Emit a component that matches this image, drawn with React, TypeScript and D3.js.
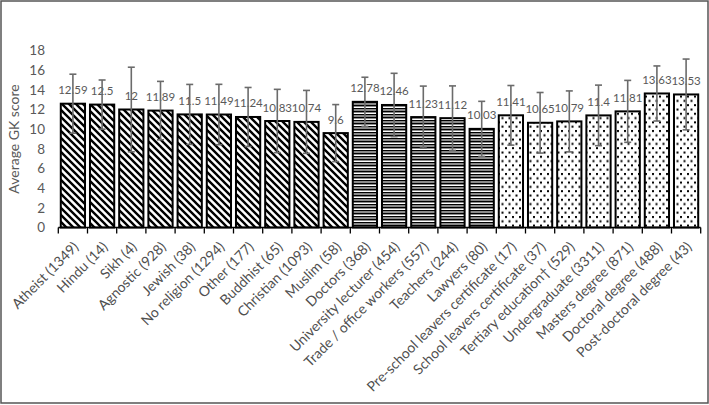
import React from "react";
import * as d3 from "d3";

const categories = [
  "Atheist (1349)", "Hindu (14)", "Sikh (4)", "Agnostic (928)", "Jewish (38)",
  "No religion (1294)", "Other (177)", "Buddhist (65)", "Christian (1093)", "Muslim (58)",
  "Doctors (368)", "University lecturer (454)", "Trade / office workers (557)", "Teachers (244)", "Lawyers (80)",
  "Pre-school leavers certificate (17)", "School leavers certificate (37)", "Tertiary education\u2020 (529)",
  "Undergraduate (3311)", "Masters degree (871)", "Doctoral degree (488)", "Post-doctoral degree (43)",
];
const groups = [
  "religion", "religion", "religion", "religion", "religion",
  "religion", "religion", "religion", "religion", "religion",
  "occupation", "occupation", "occupation", "occupation", "occupation",
  "education", "education", "education", "education", "education", "education", "education",
];
const values = [12.59, 12.5, 12, 11.89, 11.5, 11.49, 11.24, 10.83, 10.74, 9.6,
  12.78, 12.46, 11.23, 11.12, 10.03,
  11.41, 10.65, 10.79, 11.4, 11.81, 13.63, 13.53];
const labels = ["12.59", "12.5", "12", "11.89", "11.5", "11.49", "11.24", "10.83", "10.74", "9.6",
  "12.78", "12.46", "11.23", "11.12", "10.03",
  "11.41", "10.65", "10.79", "11.4", "11.81", "13.63", "13.53"];
const sds = [3.0, 2.5, 4.3, 2.97, 3.05, 3.07, 3.0, 3.22, 3.2, 2.9,
  2.5, 3.22, 3.15, 3.28, 2.8,
  3.03, 3.08, 3.1, 3.08, 3.15, 2.8, 3.6];
const yTicks = [0, 2, 4, 6, 8, 10, 12, 14, 16, 18];

const W = 709;
const H = 405;
const FONT = "Lato, 'Open Sans', sans-serif";
const TXT = "#595959";

export default function App() {
  const x = d3.scaleBand<number>()
    .domain(d3.range(categories.length))
    .range([58.3, 700.7])
    .paddingInner(0.17)
    .paddingOuter(0.085);
  const y = d3.scaleLinear().domain([0, 18]).range([227.5, 50.5]);
  const step = x.step();
  const x0 = 58.3;
  const axisY = y(0);
  const fillFor = (g: string) =>
    g === "religion" ? "url(#pDiag)" : g === "occupation" ? "url(#pHorz)" : "url(#pDots)";

  const horzRows = ["#000", "#8a8a8a", "#8a8a8a", "#000", "#8a8a8a", "#fff", "#000", "#8a8a8a", "#8a8a8a", "#000", "#8a8a8a", "#fff"];

  return (
    <div style={{ position: "fixed", left: 0, top: 0, width: W, height: H, background: "#fff" }}>
      <svg width={W} height={H} style={{ display: "block" }}>
        <defs>
          <pattern id="pDiag" patternUnits="userSpaceOnUse" width={7} height={7}>
            <rect width={7} height={7} fill="#fff" />
            <path d="M-1,-1 L8,8 M-1,6 L1,8 M6,-1 L8,1" stroke="#000" strokeWidth={2.4} />
          </pattern>
          <pattern id="pHorz" patternUnits="userSpaceOnUse" width={8} height={horzRows.length}>
            {horzRows.map((c, i) => (
              <rect key={i} x={0} y={i} width={8} height={1} fill={c} />
            ))}
          </pattern>
          <pattern id="pDots" patternUnits="userSpaceOnUse" width={7} height={8.6}>
            <rect width={7} height={8.6} fill="#fff" />
            <rect x={1} y={1} width={2} height={2} fill="#000" />
            <rect x={4.5} y={5.3} width={2} height={2} fill="#000" />
          </pattern>
        </defs>

        <rect x={1} y={1} width={W - 2} height={H - 3} fill="#fff" stroke="#555" strokeWidth={1.5} />

        {/* y tick labels */}
        {yTicks.map((t) => (
          <text key={t} x={45} y={y(t)} dy="0.35em" textAnchor="end" fontFamily={FONT} fontSize={13.5} fill={TXT}>
            {t}
          </text>
        ))}
        <text
          transform={`translate(19,139) rotate(-90)`}
          textAnchor="middle"
          fontFamily={FONT}
          fontSize={14}
          fill={TXT}
        >
          Average GK score
        </text>

        {/* bars */}
        {values.map((v, i) => (
          <rect
            key={i}
            x={x(i)!}
            y={y(v)}
            width={x.bandwidth()}
            height={axisY - y(v)}
            fill={fillFor(groups[i])}
            stroke="#000"
            strokeWidth={2}
          />
        ))}

        {/* x axis */}
        <line x1={x0} x2={700.7} y1={axisY} y2={axisY} stroke="#000" strokeWidth={1.5} />
        {d3.range(categories.length + 1).map((i) => (
          <line key={i} x1={x0 + i * step} x2={x0 + i * step} y1={axisY} y2={axisY + 6} stroke="#000" strokeWidth={1.3} />
        ))}

        {/* value labels */}
        {values.map((v, i) => (
          <text
            key={i}
            x={x(i)! + x.bandwidth() / 2}
            y={y(v) - 9.5}
            textAnchor="middle"
            fontFamily={FONT}
            fontSize={11.5}
            fill={TXT}
          >
            {labels[i]}
          </text>
        ))}

        {/* error bars */}
        {values.map((v, i) => {
          const cx = x(i)! + x.bandwidth() / 2;
          const top = y(v + sds[i]);
          const bot = y(v - sds[i]);
          return (
            <g key={i} stroke="#6b6b6b" strokeWidth={1.6}>
              <line x1={cx} x2={cx} y1={top} y2={bot} />
              <line x1={cx - 3.5} x2={cx + 3.5} y1={top} y2={top} />
              <line x1={cx - 3.5} x2={cx + 3.5} y1={bot} y2={bot} />
            </g>
          );
        })}

        {/* x labels */}
        {categories.map((c, i) => {
          const cx = x(i)! + x.bandwidth() / 2;
          return (
            <text
              key={i}
              transform={`translate(${cx + 3},${axisY + 17}) rotate(-45)`}
              textAnchor="end"
              dy="0.35em"
              fontFamily={FONT}
              fontSize={14}
              fill="#4f4f4f"
            >
              {c}
            </text>
          );
        })}
      </svg>
    </div>
  );
}
